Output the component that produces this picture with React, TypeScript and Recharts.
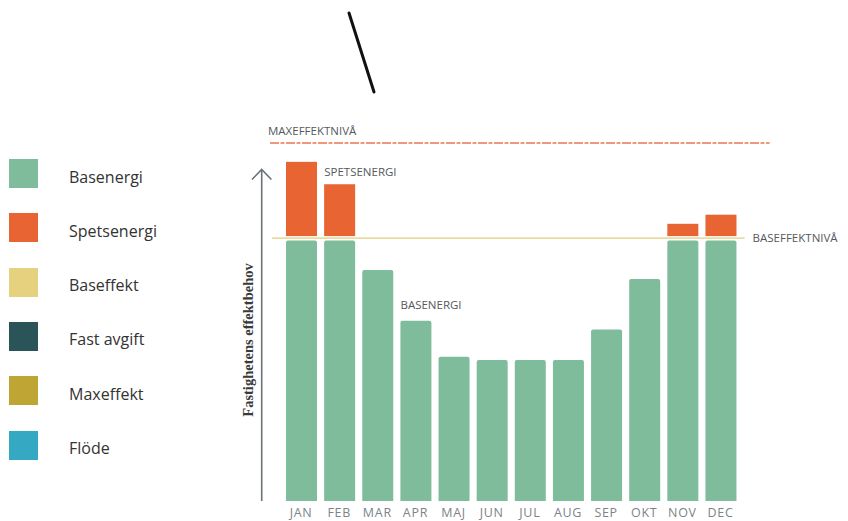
import React from 'react';
import { ComposedChart, Bar, XAxis, YAxis, ReferenceLine, ReferenceDot } from 'recharts';

const months = ['JAN', 'FEB', 'MAR', 'APR', 'MAJ', 'JUN', 'JUL', 'AUG', 'SEP', 'OKT', 'NOV', 'DEC'];
const basenergi = [74.4, 74.4, 66, 51.5, 41.2, 40.3, 40.3, 40.3, 49, 63.4, 74.4, 74.4];
const spetsenergi = [22.5, 16.1, 0, 0, 0, 0, 0, 0, 0, 0, 4.8, 7.4];
const baseffektniva = 75.1;
const maxeffektniva = 102.3;

const legendNames = ['Basenergi', 'Spetsenergi', 'Baseffekt', 'Fast avgift', 'Maxeffekt', 'Flöde'];
const legendColors = ['#7fbc9b', '#e86433', '#e6d27e', '#2b5459', '#bfa534', '#35a9c4'];

const data = months.map((m, i) => ({ month: m, base: basenergi[i], peak: spetsenergi[i] }));

const GAP = 4.5;
const labelFont = { fontFamily: 'Open Sans, sans-serif', fontSize: 11.5, fill: '#55595c' };

const PeakShape = (props: any) => {
  const { x, y, width, height, fill } = props;
  if (!height || height <= GAP) return <g />;
  return <rect x={x} y={y} width={width} height={height - GAP} fill={fill} />;
};

const ExtendedLine = (extL: number, extR: number, stroke: string, dash?: string) => (props: any) => {
  const { x1, y1, x2, y2 } = props;
  return (
    <line x1={x1 - extL} y1={y1} x2={x2 + extR} y2={y2} stroke={stroke} strokeWidth={1.6} strokeDasharray={dash} />
  );
};

export default function App() {
  return (
    <div style={{ position: 'fixed', left: 0, top: 0, width: 848, height: 521, background: '#fff', overflow: 'hidden' }}>
      <ComposedChart
        width={848}
        height={521}
        data={data}
        margin={{ top: 116, right: 108.4, left: 282, bottom: 0 }}
        barSize={31}
      >
        <XAxis
          dataKey="month"
          axisLine={false}
          tickLine={false}
          height={20}
          interval={0}
          dy={-1}
          tick={{ fill: '#7d8387', fontSize: 12.5, fontFamily: 'Open Sans, sans-serif', letterSpacing: 0.7 }}
        />
        <YAxis hide width={0} domain={[0, 110]} />
        <ReferenceLine
          y={maxeffektniva}
          shape={ExtendedLine(12, 30, '#ea7750', '9 1.5 4 1.5')}
          label={{
            content: (p: any) => (
              <text x={p.viewBox.x - 14} y={p.viewBox.y - 8} {...labelFont}>MAXEFFEKTNIVÅ</text>
            ),
          }}
        />
        <Bar dataKey="base" stackId="a" fill={legendColors[0]} radius={[2, 2, 0, 0]} isAnimationActive={false} />
        <Bar dataKey="peak" stackId="a" fill={legendColors[1]} shape={PeakShape} isAnimationActive={false} />
        <ReferenceLine
          y={baseffektniva}
          shape={ExtendedLine(10, 5, '#eadba0')}
          label={{
            content: (p: any) => (
              <text x={p.viewBox.x + p.viewBox.width + 13} y={p.viewBox.y + 4} {...labelFont}>BASEFFEKTNIVÅ</text>
            ),
          }}
        />
        <ReferenceDot
          x="FEB"
          y={94}
          r={0}
          fill="none"
          stroke="none"
          label={{
            content: (p: any) => (
              <text x={p.viewBox.x - 15} y={p.viewBox.y + 4} {...labelFont}>SPETSENERGI</text>
            ),
          }}
        />
        <ReferenceDot
          x="APR"
          y={56}
          r={0}
          fill="none"
          stroke="none"
          label={{
            content: (p: any) => (
              <text x={p.viewBox.x - 15} y={p.viewBox.y + 4} {...labelFont}>BASENERGI</text>
            ),
          }}
        />
      </ComposedChart>

      <svg width={848} height={521} style={{ position: 'absolute', left: 0, top: 0, pointerEvents: 'none' }}>
        <line x1={349} y1={13} x2={374} y2={92} stroke="#111" strokeWidth={3} strokeLinecap="round" />
        <line x1={261.7} y1={170} x2={261.7} y2={501} stroke="#6b7378" strokeWidth={1.6} />
        <polyline points="252,179.5 261.7,169.5 271.4,179.5" fill="none" stroke="#6b7378" strokeWidth={1.6} />
        <text
          x={0}
          y={0}
          transform="translate(252.5,340) rotate(-90)"
          textAnchor="middle"
          fontFamily="Liberation Serif, DejaVu Serif, serif"
          fontWeight="bold"
          fontSize={14.5}
          fill="#3a3a3a"
        >
          Fastighetens effektbehov
        </text>
      </svg>

      {legendNames.map((name, i) => (
        <div
          key={name}
          style={{ position: 'absolute', left: 9, top: 159 + i * 54.3, height: 29, display: 'flex', alignItems: 'center' }}
        >
          <div style={{ width: 29, height: 29, background: legendColors[i] }} />
          <span
            style={{
              marginLeft: 31,
              marginTop: 6,
              fontFamily: 'Open Sans, sans-serif',
              fontSize: 16,
              color: '#333',
            }}
          >
            {name}
          </span>
        </div>
      ))}
    </div>
  );
}
